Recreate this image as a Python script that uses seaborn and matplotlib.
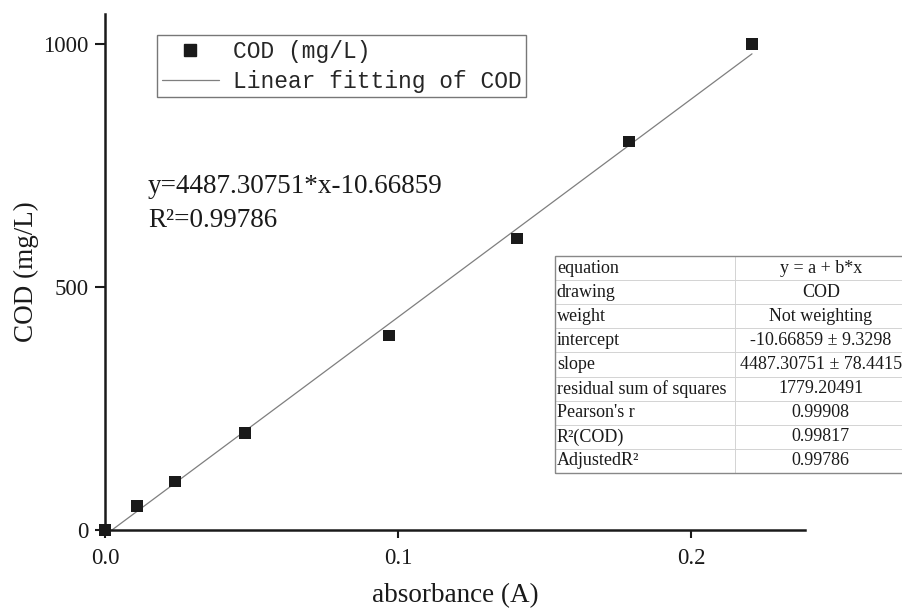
import numpy as np
import pandas as pd
import matplotlib
matplotlib.use("Agg")
import matplotlib.pyplot as plt
import seaborn as sns
from matplotlib.lines import Line2D

# ---- data ----
absorbance = [0.0, 0.0109, 0.0239, 0.0478, 0.0969, 0.1406, 0.1788, 0.2208]
cod = [0, 50, 100, 200, 400, 600, 800, 1000]
fit_intercept = -10.66859
fit_slope = 4487.30751
x_ticks = [0.0, 0.1, 0.2]
y_ticks = [0, 500, 1000]
table_labels = ["equation", "drawing", "weight", "intercept", "slope",
                "residual sum of squares", "Pearson's r", "R²(COD)", "AdjustedR²"]
table_values = ["y = a + b*x", "COD", "Not weighting", "-10.66859 ± 9.3298",
                "4487.30751 ± 78.4415", "1779.20491", "0.99908", "0.99817", "0.99786"]

sns.set_style("white")
plt.rcParams['font.family'] = ['Liberation Serif', 'DejaVu Serif']

fig = plt.figure(figsize=(9.03, 6.12), dpi=100)
ax = fig.add_axes([0.1163, 0.134, 0.7752, 0.843])

df = pd.DataFrame({"x": absorbance, "y": cod})
xfit = np.array([min(absorbance), max(absorbance)])
dfit = pd.DataFrame({"x": xfit, "y": fit_intercept + fit_slope * xfit})

sns.lineplot(data=dfit, x="x", y="y", ax=ax, color="#7f7f7f", lw=0.9, zorder=2)
sns.scatterplot(data=df, x="x", y="y", ax=ax, marker="s", s=70, color="#1a1a1a",
                edgecolor="none", zorder=3, clip_on=False)

ax.set_xlim(0, 0.2389)
ax.set_ylim(0, 1062)
ax.set_xticks(x_ticks)
ax.set_xticklabels([f"{v:.1f}" for v in x_ticks])
ax.set_yticks(y_ticks)
ax.set_yticklabels([str(v) for v in y_ticks])
ax.tick_params(axis="both", direction="out", length=7, width=1.5, labelsize=16.5,
               colors="#1a1a1a", labelcolor="#1a1a1a", bottom=True, left=True)
ax.tick_params(axis="x", length=6, pad=7)
ax.tick_params(axis="y", pad=5)
for side in ["top", "right"]:
    ax.spines[side].set_visible(False)
for side in ["left", "bottom"]:
    ax.spines[side].set_color("#1a1a1a")
    ax.spines[side].set_linewidth(1.8)

ax.set_xlabel("absorbance (A)", fontsize=19.5, labelpad=10, color="#1a1a1a")
ax.set_ylabel("COD (mg/L)", fontsize=19.5, labelpad=3, color="#1a1a1a")

handles = [Line2D([], [], marker="s", color="#1a1a1a", ls="none", markersize=8),
           Line2D([], [], color="#7f7f7f", lw=0.9)]
leg = ax.legend(handles, ["COD (mg/L)", "Linear fitting of COD"],
                loc="upper left", bbox_to_anchor=(0.0743, 0.959), frameon=True,
                fancybox=False, edgecolor="#555555", handlelength=2.5,
                borderpad=0.2, labelspacing=0.3, handletextpad=0.6,
                borderaxespad=0,
                prop={"family": "Liberation Mono", "size": 16.5})
leg.get_frame().set_linewidth(1.0)

ax.text(0.0614, 0.653, f"y={fit_slope:.5f}*x{fit_intercept:.5f}", transform=ax.transAxes,
        fontsize=19.5, color="#1a1a1a", va="baseline")
ax.text(0.0614, 0.587, "R²=0.99786", transform=ax.transAxes, fontsize=19.5,
        color="#1a1a1a", va="baseline")

# table
cells = [[a, b] for a, b in zip(table_labels, table_values)]
tab = fig.add_axes([0.6146, 0.2271, 0.39, 0.3546])
tab.axis("off")
t = tab.table(cellText=cells, cellLoc="center", bbox=[0, 0, 1, 1],
              colWidths=[0.51, 0.49])
t.auto_set_font_size(False)
for (r, c), cell in t.get_celld().items():
    cell.set_edgecolor("#d0d0d0")
    cell.set_linewidth(0.6)
    cell.get_text().set_fontsize(13)
    cell.get_text().set_color("#1a1a1a")
    if c == 0:
        cell.get_text().set_ha("left")
        cell.PAD = 0.01
# outer border
tab.add_patch(plt.Rectangle((0, 0), 1, 1, transform=tab.transAxes, fill=False,
                            edgecolor="#888888", lw=1.0, clip_on=False))

fig.savefig("out.png", dpi=100)
